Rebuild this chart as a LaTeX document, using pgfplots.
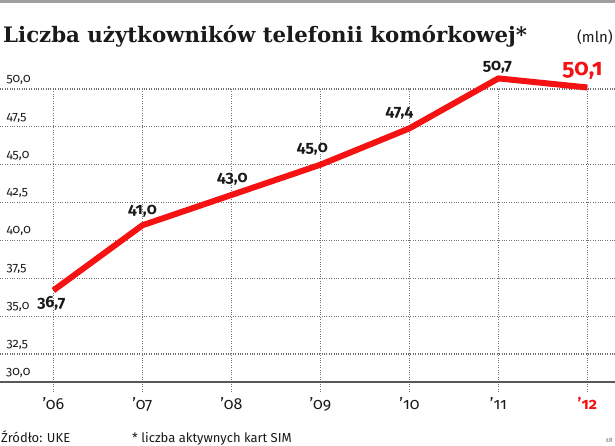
\documentclass[border=0pt]{standalone}
\usepackage{fontspec}
\setmainfont{Fira Sans}[Numbers=OldStyle]
\newfontfamily\titlefont{DejaVu Serif}
\usepackage{pgfplots}
\pgfplotsset{compat=1.18}
\definecolor{myred}{HTML}{F51212}
\definecolor{gridc}{HTML}{707070}
\definecolor{txt}{HTML}{1A1A1A}
\begin{document}
\begin{tikzpicture}[x=1pt,y=1pt]
\useasboundingbox (0pt,0pt) rectangle (615pt,445pt);
\draw[gray!75, line width=3pt] (0pt,443pt) -- (615pt,443pt);
\node[anchor=base west, inner sep=0, text=txt, font=\titlefont\bfseries\fontsize{21.3}{23}\selectfont] at (3pt,402pt) {Liczba użytkowników telefonii komórkowej*};
\node[anchor=base east, inner sep=0, text=txt, font=\fontsize{15}{17}\selectfont] at (613pt,402pt) {(mln)};
\begin{axis}[at={(0pt,63pt)}, anchor=south west, scale only axis, width=615pt, height=293pt,
  xmin=-0.6, xmax=6.31, ymin=30.65, ymax=50, clip=false,
  separate axis lines,
  axis x line*=bottom, axis y line*=left,
  x axis line style={draw=gray!70!black, line width=1.4pt, -},
  y axis line style={draw=none},
  xtick={0,...,6},
  xticklabels={’06,’07,’08,’09,’10,’11,{\color{myred}\bfseries ’12}},
  ytick={32.5,35,37.5,40,42.5,45,47.5,50},
  grid=major,
  major grid style={dotted, gridc, line width=1.2pt},
  xtick style={dotted, gridc, line width=1.2pt},
  ytick style={draw=none},
  tick align=outside, major tick length=9pt,
  xticklabel style={font=\fontsize{16}{18}\selectfont, text=txt, yshift=-3pt},
  yticklabel style={font=\fontsize{12.5}{14}\selectfont, text=txt, anchor=south west, xshift=12pt, yshift=1pt},
  /pgf/number format/.cd, fixed, fixed zerofill, precision=1, use comma, assume math mode=true,
]
\addplot[myred, line width=6pt, line join=round, no markers] coordinates {
  (0,36.7) (1,41.0) (2,43.0) (3,45.0) (4,47.4) (5,50.7) (6,50.1)
};
\node[anchor=north, font=\bfseries\fontsize{16}{18}\selectfont, text=txt] at (axis cs:0,36.7) [yshift=-3pt, xshift=-2pt] {36,7};
\node[anchor=south, font=\bfseries\fontsize{16}{18}\selectfont, text=txt] at (axis cs:1,41.0) [yshift=4pt] {41,0};
\node[anchor=south, font=\bfseries\fontsize{16}{18}\selectfont, text=txt] at (axis cs:2,43.0) [yshift=6pt, xshift=1pt] {43,0};
\node[anchor=south, font=\bfseries\fontsize{16}{18}\selectfont, text=txt] at (axis cs:3,45.0) [yshift=6pt, xshift=-8pt] {45,0};
\node[anchor=south, font=\bfseries\fontsize{16}{18}\selectfont, text=txt] at (axis cs:4,47.4) [yshift=6pt, xshift=-10pt] {47,4};
\node[anchor=south, font=\bfseries\fontsize{16}{18}\selectfont, text=txt] at (axis cs:5,50.7) [yshift=2pt, xshift=-1pt] {50,7};
\node[anchor=south, font=\bfseries\fontsize{23}{25}\selectfont, text=myred] at (axis cs:6,50.1) [yshift=4pt, xshift=-5pt] {50,1};
\node[anchor=south west, font=\fontsize{12.5}{14}\selectfont, text=txt, inner sep=0] at (rel axis cs:0,0) [xshift=6pt, yshift=4pt] {30,0};
\end{axis}
\node[anchor=base west, inner sep=0, text=txt, font=\fontsize{13}{15}\selectfont] at (1pt,3pt) {Źródło: UKE};
\node[anchor=base west, inner sep=0, text=txt, font=\fontsize{13}{15}\selectfont] at (132pt,3pt) {* liczba aktywnych kart SIM};
\node[anchor=base east, inner sep=0, text=gray!80!black, font=\fontsize{6}{7}\selectfont] at (613pt,3pt) {ŁR};
\end{tikzpicture}
\end{document}
